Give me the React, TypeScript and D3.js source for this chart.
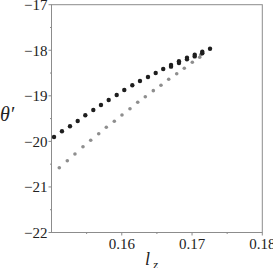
import React from "react";
import * as d3 from "d3";

const blackX = [0.15036, 0.15149, 0.15263, 0.15373, 0.15481, 0.15595, 0.15704, 0.15814, 0.15928, 0.16036, 0.1615, 0.16259, 0.16373, 0.16483, 0.1659, 0.16701, 0.16814, 0.16928, 0.17038, 0.17146, 0.17256, 0.16701, 0.16814, 0.16928, 0.17038, 0.17146];
const blackY = [-19.904, -19.779, -19.669, -19.553, -19.427, -19.311, -19.201, -19.092, -18.982, -18.872, -18.769, -18.675, -18.587, -18.499, -18.411, -18.324, -18.242, -18.163, -18.097, -18.032, -17.966, -18.36, -18.28, -18.2, -18.135, -18.065];
const grayX = [0.15111, 0.15225, 0.15334, 0.15448, 0.15558, 0.15672, 0.1578, 0.15894, 0.16003, 0.16117, 0.16227, 0.16335, 0.16449, 0.16558, 0.16668, 0.16782, 0.1689, 0.17004, 0.17109, 0.17123, 0.17142];
const grayY = [-20.578, -20.424, -20.277, -20.117, -19.976, -19.831, -19.691, -19.559, -19.421, -19.283, -19.142, -19.019, -18.887, -18.769, -18.637, -18.514, -18.396, -18.264, -18.155, -18.097, -18.06];

const xTicks = [0.16, 0.17, 0.18];
const xMinor = [0.155, 0.165, 0.175];
const yTicks = [-17, -18, -19, -20, -21, -22];
const yMinor = [-17.5, -18.5, -19.5, -20.5, -21.5];

export default function App() {
  const W = 273, H = 268;
  const left = 51.5, right = 262.3, top = 4.7, bottom = 232.5;
  const x = d3.scaleLinear().domain([0.15, 0.18]).range([left, right]);
  const y = d3.scaleLinear().domain([-22, -17]).range([bottom, top]);
  const axisColor = "#8c8c8c";
  const font = "Liberation Serif";
  const fmt = (v: number) => (v < 0 ? "\u2212" + Math.abs(v) : String(v));
  return (
    <svg width={W} height={H} style={{ position: "absolute", left: 0, top: 0, background: "#fff" }}>
      <rect x={left} y={top} width={right - left} height={bottom - top} fill="none" stroke={axisColor} strokeWidth={1} />
      {yTicks.map((t) => (
        <g key={"y" + t}>
          <line x1={left - 3} x2={left} y1={y(t)} y2={y(t)} stroke={axisColor} />
          <text x={left - 4} y={y(t)} dy="0.35em" textAnchor="end" fontFamily={font} fontSize={15} fill="#222">
            {fmt(t)}
          </text>
        </g>
      ))}
      {yMinor.map((t) => (
        <line key={"ym" + t} x1={left - 1.5} x2={left} y1={y(t)} y2={y(t)} stroke={axisColor} />
      ))}
      {xTicks.map((t) => (
        <g key={"x" + t}>
          <line x1={x(t)} x2={x(t)} y1={bottom} y2={bottom + 3} stroke={axisColor} />
          <text x={x(t)} y={249} textAnchor="middle" fontFamily={font} fontSize={15} fill="#222">
            {t.toFixed(2)}
          </text>
        </g>
      ))}
      {xMinor.map((t) => (
        <line key={"xm" + t} x1={x(t)} x2={x(t)} y1={bottom} y2={bottom + 1.5} stroke={axisColor} />
      ))}
      {grayX.map((v, i) => (
        <circle key={"g" + i} cx={x(v)} cy={y(grayY[i])} r={1.8} fill="#8e8e8e" />
      ))}
      {blackX.map((v, i) => (
        <circle key={"b" + i} cx={x(v)} cy={y(blackY[i])} r={2.2} fill="#1e1e1e" />
      ))}
      <text x={0} y={121} fontFamily={font} fontStyle="italic" fontSize={20} fill="#222">
        {"\u03B8\u2032"}
      </text>
      <text x={145} y={265} fontFamily={font} fontStyle="italic" fontSize={18} fill="#222">
        l<tspan fontSize={13} dx={3} dy={4}>z</tspan>
      </text>
    </svg>
  );
}
